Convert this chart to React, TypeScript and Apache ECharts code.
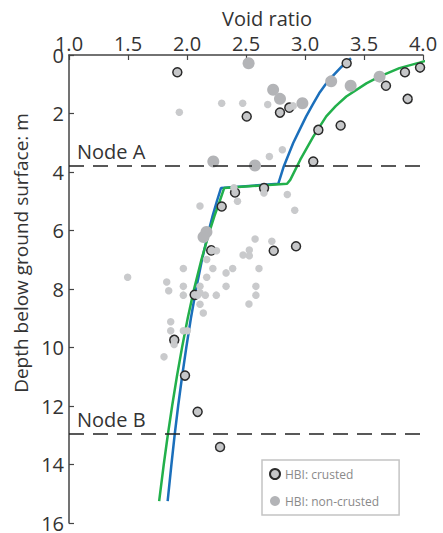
import React, { useEffect, useRef } from "react";
import * as echarts from "echarts";

// [void ratio, depth (m)]
const crustedPoints: number[][] = [
  [1.918, 0.59], [3.353, 0.28], [3.847, 0.59], [3.975, 0.43], [3.686, 1.05],
  [3.87, 1.5], [2.506, 2.1], [2.788, 1.97], [2.867, 1.8], [3.113, 2.56],
  [3.302, 2.41], [3.07, 3.64], [2.407, 4.7], [2.653, 4.55], [2.294, 5.18],
  [2.205, 6.68], [2.735, 6.69], [2.924, 6.54], [2.065, 8.2], [1.892, 9.74],
  [1.983, 10.96], [2.09, 12.2], [2.28, 13.4],
];

const nonCrustedLarge: number[][] = [
  [2.522, 0.28], [2.73, 1.19], [2.788, 1.5], [2.978, 1.65], [3.222, 0.9],
  [3.387, 1.05], [3.632, 0.74], [2.223, 3.64], [2.576, 3.78], [2.165, 6.05],
  [2.14, 6.22],
];

const nonCrustedSmall: number[][] = [
  [1.935, 1.96], [2.294, 1.65], [2.472, 1.65], [2.684, 1.69], [2.9, 1.74],
  [2.698, 3.47], [2.808, 3.24], [2.398, 4.54], [2.652, 4.72], [2.85, 4.77],
  [2.11, 5.16], [2.428, 5.0], [2.913, 5.31], [2.577, 6.29], [2.719, 6.37],
  [2.21, 6.68], [2.25, 6.69], [2.528, 6.67], [2.475, 6.84], [2.528, 6.86],
  [2.167, 6.99], [1.969, 7.3], [2.219, 7.3], [2.387, 7.3], [2.61, 7.3],
  [1.497, 7.6], [2.331, 7.45], [2.167, 7.6], [1.828, 7.76], [1.845, 8.06],
  [1.969, 7.91], [2.11, 7.91], [2.331, 7.91], [2.584, 7.91], [1.969, 8.21],
  [2.11, 8.13], [2.09, 8.21], [2.155, 8.21], [2.248, 8.21], [2.584, 8.21],
  [2.11, 8.52], [2.525, 8.51], [2.138, 8.82], [1.862, 9.12], [1.862, 9.43],
  [1.969, 9.43], [2.003, 9.43], [1.891, 9.9], [1.805, 10.32],
];

const blueCurve: number[][] = [
  [1.836, 15.25], [1.868, 14], [1.895, 13], [1.925, 12], [1.958, 11],
  [1.994, 10], [2.033, 9], [2.077, 8], [2.127, 7], [2.185, 6], [2.217, 5.5],
  [2.253, 5], [2.288, 4.55], [2.774, 4.4], [2.82, 3.81], [2.9, 3.01],
  [2.955, 2.55], [3.01, 2.1], [3.065, 1.7], [3.12, 1.31], [3.175, 1.0],
  [3.23, 0.74], [3.31, 0.4], [3.39, 0.11],
];

const greenCurve: number[][] = [
  [1.764, 15.25], [1.803, 14], [1.837, 13], [1.874, 12], [1.914, 11],
  [1.958, 10], [2.006, 9], [2.06, 8], [2.122, 7], [2.193, 6], [2.233, 5.5],
  [2.277, 5], [2.315, 4.55], [2.848, 4.4], [2.875, 4.27], [2.96, 3.58],
  [3.07, 2.79], [3.18, 2.1], [3.26, 1.75], [3.35, 1.42], [3.52, 0.97],
  [3.63, 0.74], [3.8, 0.45], [3.97, 0.26], [4.1, 0.11],
];

const nodes = [
  { name: "Node A", depth: 3.79 },
  { name: "Node B", depth: 12.95 },
];

const legendNames = ["HBI: crusted", "HBI: non-crusted"];

export default function App() {
  const ref = useRef<HTMLDivElement>(null);
  useEffect(() => {
    if (!ref.current) return;
    const chart = echarts.init(ref.current, null, { renderer: "svg" });
    const font = "'Open Sans', 'Noto Sans', sans-serif";
    chart.setOption({
      animation: false,
      textStyle: { fontFamily: font },
      grid: { left: 69, top: 55, right: 20, bottom: 10 },
      legend: {
        data: legendNames,
        orient: "vertical",
        left: 262,
        top: 460,
        width: 137,
        padding: [8, 20, 8, 7],
        itemGap: 15,
        itemWidth: 10,
        itemHeight: 10,
        icon: "circle",
        borderColor: "#c4c4c4",
        borderWidth: 1.5,
        borderRadius: 0,
        backgroundColor: "#fff",
        textStyle: { color: "#8a8a8a", fontSize: 12, fontFamily: font },
      },
      xAxis: {
        type: "value",
        position: "top",
        min: 1,
        max: 4,
        interval: 0.5,
        name: "Void ratio",
        nameLocation: "middle",
        nameGap: 25,
        nameTextStyle: { fontSize: 20, color: "#333", padding: [0, 0, 0, 42] },
        axisLine: { show: true, lineStyle: { color: "#444", width: 1.5 } },
        axisTick: { show: true, inside: true, length: 5, lineStyle: { color: "#444", width: 1.2 } },
        axisLabel: { fontSize: 20, color: "#333", margin: 2, formatter: (v: number) => v.toFixed(1) },
        splitLine: { show: false },
      },
      yAxis: {
        type: "value",
        inverse: true,
        min: 0,
        max: 16,
        interval: 2,
        name: "Depth below ground surface: m",
        nameLocation: "middle",
        nameGap: 38,
        nameTextStyle: { fontSize: 19, color: "#333", padding: [0, 0, 0, 72] },
        axisLine: { show: true, lineStyle: { color: "#444", width: 1.5 } },
        axisTick: { show: true, inside: true, length: 5, lineStyle: { color: "#444", width: 1.2 } },
        axisLabel: { fontSize: 20, color: "#333", margin: 5, lineHeight: 20 },
        splitLine: { show: false },
      },
      series: [
        {
          type: "line",
          name: "blue",
          data: blueCurve,
          symbol: "none",
          clip: false,
          lineStyle: { color: "#1b6fbb", width: 2.5 },
          z: 1,
          markLine: {
            silent: true,
            symbol: "none",
            lineStyle: { color: "#222", type: [15, 9], width: 1.5 },
            label: {
              show: true,
              formatter: "{b}",
              position: "insideStartTop",
              fontSize: 20,
              color: "#333",
              fontFamily: font,
              distance: [8, 4],
            },
            data: nodes.map((n) => ({ name: n.name, yAxis: n.depth })),
          },
        },
        {
          type: "line",
          name: "green",
          data: greenCurve,
          symbol: "none",
          clip: false,
          lineStyle: { color: "#22b04b", width: 2.5 },
          z: 2,
        },
        {
          type: "scatter",
          name: legendNames[0],
          data: crustedPoints,
          symbol: "circle",
          symbolSize: 9,
          itemStyle: { color: "#c6c7c9", borderColor: "#2a2a2a", borderWidth: 1.5, opacity: 1 },
          z: 3,
        },
        {
          type: "scatter",
          name: legendNames[1],
          data: nonCrustedLarge,
          symbol: "circle",
          symbolSize: 12,
          itemStyle: { color: "#b3b4b7", opacity: 1 },
          z: 4,
        },
        {
          type: "scatter",
          name: legendNames[1],
          data: nonCrustedSmall,
          symbol: "circle",
          symbolSize: 7.5,
          itemStyle: { color: "#c9cacc", opacity: 1 },
          z: 4,
        },
      ],
    });
    return () => chart.dispose();
  }, []);
  return (
    <div
      ref={ref}
      style={{ position: "fixed", left: 0, top: 0, width: 443, height: 533, background: "#fff" }}
    />
  );
}
